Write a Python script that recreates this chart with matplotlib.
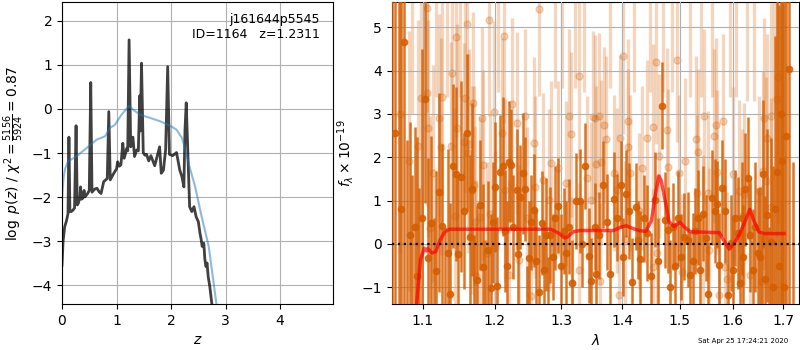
#
# Redshift fit summary: p(z) on the left, 1D grism spectrum on the right
#
import numpy as np
import matplotlib
matplotlib.use('Agg')
from matplotlib import pyplot as plt
from matplotlib.ticker import NullLocator
#
# ----------------------------------------------------
# p(z) panel
z_fit = [0.000, 0.020, 0.050, 0.080, 0.110, 0.127, 0.145, 0.170, 0.200,
         0.230, 0.258, 0.280, 0.300, 0.330, 0.340, 0.355, 0.380, 0.405, 0.420,
         0.470, 0.500, 0.527, 0.550, 0.600, 0.640, 0.680, 0.716, 0.765, 0.830,
         0.858, 0.885, 0.950, 1.000, 1.020, 1.050, 1.080, 1.115, 1.140, 1.190,
         1.205, 1.230, 1.260, 1.300, 1.330, 1.370, 1.400, 1.425, 1.435, 1.458,
         1.490, 1.520, 1.550, 1.590, 1.630, 1.700, 1.740, 1.790, 1.820, 1.860,
         1.900, 1.938, 1.970, 2.030, 2.100, 2.160, 2.200, 2.235, 2.255, 2.278,
         2.300, 2.340, 2.380, 2.420, 2.460, 2.500, 2.530, 2.550, 2.570, 2.600,
         2.620, 2.640, 2.660, 2.680, 2.710, 2.750, 2.800]
logp_fit = [-3.55, -3.00, -2.67, -2.55, -2.38, -0.64, -2.33, -2.33, -2.30,
            -2.25, -0.38, -2.18, -2.14, -2.00, -1.77, -2.05, -2.03, -1.85, -2.00,
            -1.92, -1.85, 0.60, -1.89, -1.82, -1.80, -1.88, -1.92, -1.65, -1.58,
            -0.06, -1.61, -1.46, -1.36, -1.20, -1.30, -1.27, -0.78, -1.12, -0.89,
            -0.95, 1.57, -0.86, -0.64, -1.08, -0.93, -0.95, 0.30, -0.50, 1.04,
            -0.99, -1.05, -1.03, -1.18, -1.06, -1.29, -1.10, -0.86, -1.46, -1.39,
            -0.93, 0.96, -1.03, -1.06, -0.99, -1.39, -1.54, -1.77, -0.48, 0.14,
            -0.70, -2.22, -2.33, -2.22, -2.45, -2.56, -2.82, -2.95, -3.12, -3.05,
            -3.42, -3.58, -3.50, -3.80, -4.03, -4.45, -5.00]
#
z_prior = [0.00, 0.01, 0.03, 0.06, 0.11, 0.26, 0.45, 0.63, 0.79, 0.88, 0.97,
           1.09, 1.23, 1.31, 1.43, 1.61, 1.80, 1.98, 2.10, 2.20, 2.26,
           2.32, 2.44, 2.56, 2.69, 2.78, 2.85]
logp_prior = [-2.10, -1.85, -1.55, -1.35, -1.19, -1.08, -0.89, -0.70, -0.62, -0.43, -0.36,
              -0.13, 0.07, -0.02, -0.13, -0.20, -0.28, -0.38, -0.47, -0.66, -0.92,
              -1.23, -1.76, -2.44, -3.12, -3.95, -4.60]
#
# ----------------------------------------------------
# spectrum panel, binned points (dark)
wave_a = [1.0600, 1.0637, 1.0680, 1.0715, 1.0755, 1.0790, 1.0825, 1.0860, 1.0890, 1.0920,
          1.0950, 1.0990, 1.1030, 1.1074, 1.1110, 1.1145, 1.1180, 1.1220, 1.1260, 1.1300,
          1.1340, 1.1370, 1.1410, 1.1450, 1.1480, 1.1520, 1.1555, 1.1600, 1.1638, 1.1670,
          1.1705, 1.1740, 1.1780, 1.1823, 1.1860, 1.1900, 1.1937, 1.1965, 1.2000, 1.2030,
          1.2080, 1.2120, 1.2150, 1.2180, 1.2210, 1.2230, 1.2270, 1.2326, 1.2345, 1.2370,
          1.2410, 1.2440, 1.2470, 1.2500, 1.2540, 1.2580, 1.2615, 1.2650, 1.2700, 1.2730,
          1.2760, 1.2800, 1.2830, 1.2870, 1.2910, 1.2955, 1.3000, 1.3040, 1.3080, 1.3130,
          1.3170, 1.3235, 1.3295, 1.3340, 1.3380, 1.3440, 1.3480, 1.3538, 1.3560, 1.3610,
          1.3680, 1.3736, 1.3790, 1.3850, 1.3915, 1.3970, 1.4010, 1.4056, 1.4110, 1.4170,
          1.4227, 1.4260, 1.4300, 1.4370, 1.4430, 1.4490, 1.4560, 1.4615, 1.4680, 1.4737,
          1.4796, 1.4835, 1.4875, 1.4925, 1.4976, 1.5030, 1.5085, 1.5147, 1.5190, 1.5240,
          1.5290, 1.5340, 1.5380, 1.5440, 1.5490, 1.5530, 1.5594, 1.5657, 1.5695, 1.5740,
          1.5800, 1.5850, 1.5910, 1.5960, 1.6010, 1.6050, 1.6090, 1.6130, 1.6170, 1.6200,
          1.6240, 1.6290, 1.6340, 1.6390, 1.6440, 1.6490, 1.6535, 1.6570, 1.6600, 1.6640,
          1.6676, 1.6720, 1.6757, 1.6800, 1.6840, 1.6880, 1.6920, 1.6950, 1.6980, 1.7020,
          1.7060, 1.7120, 1.7200]
flux_a = [-1.50, 2.57, -2.00, 0.80, 4.65, -1.60, 0.21, -1.90, 0.40, -0.74,
          -1.70, 0.60, 3.34, -0.32, 0.48, -1.80, -0.62, 1.19, 0.41, -1.60,
          -0.21, -1.15, 1.80, 1.61, -0.24, 1.55, 0.76, 2.57, 0.15, 1.26,
          -1.60, -0.83, 0.90, -0.52, -1.70, -0.14, -1.01, 0.50, 1.32, -0.97,
          1.67, 1.79, 0.30, -0.51, 1.90, 1.81, 0.40, 1.25, -0.24, 1.08,
          1.63, 1.26, -1.70, -0.32, 0.50, 0.78, -0.40, -1.10, 0.49, -0.60,
          0.21, -1.50, 0.21, -0.30, 0.60, 0.88, -0.50, 0.30, -0.21, 0.40,
          -0.90, 0.99, 0.99, 0.00, 1.80, -0.27, -0.86, 0.40, -0.69, 0.20,
          1.37, 0.51, -0.70, 1.03, 0.61, 1.37, -0.30, 1.16, 0.76, -0.87,
          0.86, 0.10, -0.35, 0.59, 0.25, -0.75, 1.02, -0.40, 3.19, 0.55,
          0.32, -1.00, 0.40, -0.50, 0.59, -0.30, 0.17, 0.10, -0.72, -0.39,
          0.30, 0.61, -0.60, 0.70, 0.14, -1.15, 1.07, 0.76, 0.91, -0.48,
          1.29, 0.76, -1.17, 0.02, -0.60, 0.60, 0.25, -0.90, 0.59, -0.30,
          1.26, 1.52, 0.20, -0.60, 0.40, -0.21, -0.29, -1.60, 1.61, -0.80,
          0.66, -1.80, 0.04, -1.00, 0.80, 1.67, -0.50, 3.00, 1.91, -1.00,
          2.50, 4.03, -2.00]
err_a = [8.0, 8.0, 8.0, 8.0, 8.0, 4.0, 2.6, 3.5, 2.3, 3.2,
         3.0, 3.9, 2.4, 2.3, 2.0, 2.4, 2.3, 2.3, 1.9, 2.0,
         2.4, 2.1, 1.9, 2.0, 1.8, 2.2, 1.8, 1.8, 1.9, 2.0,
         1.8, 1.7, 1.5, 1.9, 1.8, 1.6, 1.7, 1.4, 1.5, 1.6,
         1.3, 1.6, 1.4, 1.5, 1.4, 1.3, 1.2, 1.4, 1.3, 1.2,
         1.4, 1.2, 1.2, 1.3, 1.1, 1.3, 1.2, 1.3, 1.2, 1.1,
         1.3, 1.2, 1.1, 1.0, 1.2, 1.1, 1.2, 1.0, 1.2, 1.1,
         1.0, 1.1, 1.2, 1.0, 1.0, 1.1, 1.0, 1.0, 1.1, 1.0,
         1.0, 1.1, 1.0, 1.1, 1.0, 1.0, 0.9, 1.0, 1.1, 1.0,
         1.0, 0.9, 1.1, 1.0, 1.1, 1.0, 1.1, 1.0, 1.0, 1.1,
         1.0, 1.1, 1.0, 1.0, 1.1, 1.0, 1.0, 1.1, 1.0, 1.1,
         1.0, 1.1, 1.2, 1.1, 1.0, 1.2, 1.1, 1.2, 1.0, 1.2,
         1.1, 1.2, 1.2, 1.1, 1.2, 1.1, 1.3, 1.2, 1.3, 1.2,
         1.3, 1.4, 1.3, 1.4, 1.5, 1.5, 1.6, 1.8, 1.7, 1.9,
         2.0, 2.2, 2.4, 2.8, 4.0, 5.0, 6.0, 8.0, 8.0, 8.0,
         8.0, 8.0, 3.9]
#
# spectrum panel, unbinned points (pale)
wave_b = [1.0700, 1.0811, 1.0860, 1.0929, 1.0980, 1.1053, 1.1057, 1.1074, 1.1088, 1.1141,
          1.1180, 1.1222, 1.1240, 1.1258, 1.1330, 1.1378, 1.1390, 1.1429, 1.1453, 1.1462,
          1.1510, 1.1560, 1.1570, 1.1603, 1.1610, 1.1630, 1.1675, 1.1683, 1.1697, 1.1720,
          1.1730, 1.1780, 1.1814, 1.1829, 1.1890, 1.1910, 1.1935, 1.1980, 1.2000, 1.2050,
          1.2105, 1.2139, 1.2153, 1.2210, 1.2257, 1.2326, 1.2350, 1.2440, 1.2467, 1.2530,
          1.2578, 1.2603, 1.2653, 1.2717, 1.2808, 1.2845, 1.2900, 1.2955, 1.3020, 1.3070,
          1.3120, 1.3150, 1.3166, 1.3220, 1.3280, 1.3290, 1.3360, 1.3420, 1.3475, 1.3515,
          1.3537, 1.3560, 1.3610, 1.3620, 1.3640, 1.3694, 1.3720, 1.3790, 1.3853, 1.3910,
          1.3940, 1.3960, 1.4010, 1.4037, 1.4087, 1.4100, 1.4126, 1.4200, 1.4290, 1.4340,
          1.4415, 1.4470, 1.4525, 1.4530, 1.4580, 1.4590, 1.4630, 1.4700, 1.4770, 1.4790,
          1.4870, 1.4950, 1.4995, 1.5046, 1.5105, 1.5200, 1.5300, 1.5315, 1.5340, 1.5400,
          1.5440, 1.5455, 1.5525, 1.5550, 1.5600, 1.5636, 1.5675, 1.5690, 1.5740, 1.5815,
          1.5850, 1.5880, 1.5940, 1.6000, 1.6060, 1.6110, 1.6180, 1.6210, 1.6280, 1.6340,
          1.6420, 1.6510, 1.6570, 1.6590, 1.6610, 1.6660, 1.6680, 1.6756, 1.6760, 1.6820,
          1.6885, 1.6900]
flux_b = [3.0, 1.92, 6.0, 2.26, 3.36, 3.47, 5.44, 2.67, 0.36, 1.63,
          6.2, 2.91, 2.24, 3.40, 6.0, 2.26, 3.95, 0.64, 4.77, 2.67,
          6.0, 2.34, 3.37, 5.08, 2.09, 2.30, 1.25, 3.26, 1.35, 0.51,
          -0.73, 0.62, 2.90, 1.82, -0.21, 5.16, 0.70, 3.05, -0.06, 6.0,
          2.55, 4.79, 1.25, -0.72, 3.22, 2.78, -0.37, 2.96, 0.59, -1.21,
          2.32, 1.31, 5.41, 1.47, 1.01, 1.86, 6.0, 1.75, 6.0, 1.40,
          2.96, 2.53, -0.91, 6.0, 3.87, -0.60, 6.0, 1.52, 1.01, 2.92,
          2.91, 1.84, 2.96, -0.85, 1.88, 2.75, 2.43, 6.0, 1.63, 1.24,
          -1.17, 2.45, 4.33, 0.11, 2.83, 2.24, 1.63, 6.0, 0.75, 1.75,
          2.44, 6.0, 2.70, -0.54, 4.20, -0.21, 2.03, 6.0, 2.63, 1.78,
          6.0, 4.25, 1.63, -0.65, 1.92, 6.0, 2.43, 1.17, 2.13, 6.0,
          0.14, 2.95, 1.17, -0.15, 6.0, 2.49, 2.74, 1.66, -1.17, 2.84,
          -0.53, -0.80, 6.0, 1.62, 6.0, 1.23, 0.65, 1.16, 6.0, -0.72,
          6.0, 1.21, -0.85, 1.69, 2.90, 1.46, 2.45, 2.95, 0.86, 6.0,
          3.35, 3.85]
err_b = [3.2, 3.0, 3.0, 2.9, 2.8, 2.6, 2.4, 2.5, 2.6, 2.5,
         2.8, 2.4, 2.5, 2.3, 2.6, 2.4, 2.2, 2.5, 2.3, 2.4,
         2.6, 2.3, 2.2, 2.4, 2.3, 2.2, 2.4, 2.1, 2.3, 2.2,
         2.2, 2.3, 2.1, 2.2, 2.1, 2.2, 2.3, 2.1, 2.2, 2.5,
         2.2, 2.0, 2.1, 2.2, 2.0, 2.1, 2.2, 2.0, 2.1, 2.2,
         2.0, 2.1, 2.0, 2.0, 2.1, 1.9, 2.4, 2.0, 2.4, 1.9,
         2.0, 1.9, 2.0, 2.4, 1.9, 2.0, 2.5, 1.9, 1.8, 2.0,
         1.9, 1.8, 1.9, 1.8, 1.9, 1.8, 1.9, 2.4, 1.8, 1.9,
         1.8, 1.9, 1.8, 1.8, 1.9, 1.8, 1.8, 2.5, 1.8, 1.9,
         1.8, 2.5, 1.9, 1.8, 1.9, 1.8, 1.9, 2.5, 1.9, 1.8,
         2.5, 1.9, 1.8, 1.8, 1.9, 2.6, 1.9, 1.8, 1.9, 2.6,
         1.9, 2.0, 1.9, 1.9, 2.6, 2.0, 2.0, 1.9, 2.0, 2.0,
         1.9, 2.0, 2.6, 2.0, 2.6, 2.1, 2.0, 2.1, 2.7, 2.1,
         2.7, 2.2, 2.2, 2.3, 2.3, 2.4, 2.4, 2.6, 2.5, 3.0,
         3.2, 3.4]
#
# best-fit model
wave_model = [1.0880, 1.0916, 1.0967, 1.1016, 1.1045, 1.1065, 1.1119, 1.1170, 1.1230, 1.1295,
              1.1362, 1.2836, 1.2960, 1.3055, 1.3100, 1.3190, 1.3300, 1.3850, 1.3960, 1.4060,
              1.4190, 1.4280, 1.4400, 1.4500, 1.4560, 1.4630, 1.4670, 1.4760, 1.4810, 1.4900,
              1.5010, 1.5080, 1.5200, 1.5740, 1.5840, 1.5930, 1.6030, 1.6120, 1.6220, 1.6330,
              1.6410, 1.6510, 1.6610, 1.7020]
flux_model = [-2.50, -1.38, -0.37, -0.10, -0.16, -0.10, -0.21, -0.18, 0.09, 0.28,
              0.34, 0.34, 0.25, 0.14, 0.16, 0.28, 0.31, 0.31, 0.38, 0.42,
              0.35, 0.31, 0.29, 0.54, 1.08, 1.57, 1.47, 0.87, 0.52, 0.40,
              0.50, 0.40, 0.28, 0.26, 0.05, -0.12, 0.02, 0.21, 0.47, 0.80,
              0.54, 0.28, 0.24, 0.24]
#
wave_ticks = [1.1, 1.2, 1.3, 1.4, 1.5, 1.6, 1.7]
#
root = 'j161644p5545'
obj_id = 1164
z_best = 1.2311
chi2 = 5156
dof = 5924
stamp = 'Sat Apr 25 17:24:21 2020'
#
grism_color = '#d55e00'
#
# ----------------------------------------------------
fig = plt.figure(figsize = (8, 3.5), dpi = 100)
#
ax1 = fig.add_axes([0.0775, 0.1314, 0.3388, 0.8629])
ax1.plot(z_fit, logp_fit, color = 'k', alpha = 0.75, linewidth = 2)
ax1.plot(z_prior, logp_prior, color = '#1f77b4', alpha = 0.5, linewidth = 1.5)
ax1.set_xlim(0, 4.97)
ax1.set_ylim(-4.43, 2.43)
ax1.grid()
ax1.set_xlabel(r'$z$')
ax1.set_ylabel(r'$\log\ p(z)$' + ' / ' +
               r'$\chi^2=\frac{{{0:d}}}{{{1:d}}}={2:.2f}$'.format(chi2, dof, chi2 / dof))
ax1.text(0.95, 0.965, '{0}\nID={1}   z={2:.4f}'.format(root, obj_id, z_best),
         ha = 'right', va = 'top', transform = ax1.transAxes, fontsize = 9)
#
ax2 = fig.add_axes([0.4894, 0.1314, 0.5093, 0.8629])
ax2.errorbar(wave_b, flux_b, yerr = err_b, marker = 'o', ms = 5, linestyle = 'none',
             color = grism_color, alpha = 0.25, elinewidth = 2.4, zorder = 2)
ax2.errorbar(wave_a, flux_a, yerr = err_a, marker = 'o', ms = 4.5, linestyle = 'none',
             color = grism_color, alpha = 0.85, elinewidth = 1.8, zorder = 3)
ax2.plot(wave_model, flux_model, color = 'r', alpha = 0.7, linewidth = 2.5, zorder = 4)
ax2.axhline(0, color = 'k', linestyle = ':', linewidth = 1.6, zorder = 5)
#
ax2.set_xscale('log')
ax2.set_xlim(1.059, 1.733)
ax2.set_ylim(-1.385, 5.58)
ax2.set_xticks(wave_ticks)
ax2.set_xticklabels(['{0:.1f}'.format(t) for t in wave_ticks])
ax2.xaxis.set_minor_locator(NullLocator())
ax2.set_axisbelow(False)
ax2.grid()
ax2.set_xlabel(r'$\lambda$')
ax2.set_ylabel(r'$f_\lambda\times10^{-19}$')
#
fig.text(0.985, 0.018, stamp, ha = 'right', va = 'bottom', fontsize = 5)
#
fig.savefig('out.png', dpi = 100)
